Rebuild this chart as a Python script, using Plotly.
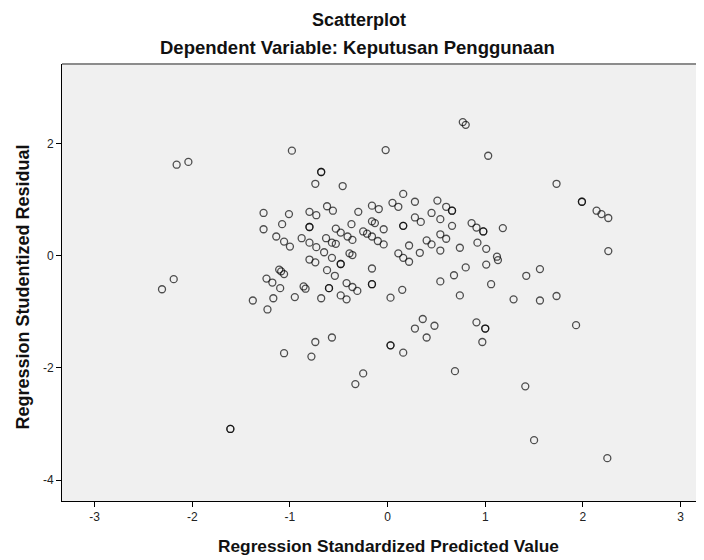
import plotly.graph_objects as go

# Regression Standardized Predicted Value (x) and Regression Studentized Residual (y)
predicted = [
    -2.16, -2.04, -0.98, -0.02, -0.68, -0.68, -0.74, -0.46, 0.77, 0.80,
    1.03, 1.73, 1.99, 1.99, 2.14, 2.19, 2.26, 2.26, 1.18,
    -1.27, -1.01, -0.80, -0.73, -0.62, -0.56, -0.30, -0.16, -0.09, 0.05,
    0.11, 0.16, 0.28, 0.51, 0.60, 0.66, 0.66, 0.45, 0.54, 0.28, 0.34,
    0.16, 0.16, 0.66, 0.86, 0.91, 0.98, 0.98,
    -1.27, -1.08, -0.80, -0.80, -0.37, -0.53, -0.48, -0.16, -0.13, -0.04,
    -0.25, -0.21, -0.16, -0.10, -0.04, -1.14, -1.06, -1.00, -0.88, -0.80,
    -0.73, -0.63, -0.57, -0.53, -0.41, -0.36, 0.40, 0.45, 0.54, 0.60,
    0.22, 0.54, 0.33, 0.74, 0.92, 1.01, 1.12, 0.11, 0.16, 0.22,
    -0.65, -0.57, -0.48, -0.48, -0.39, -0.36, -0.80, -0.74, -0.16, -0.62,
    -0.54, -1.11, -1.09, -1.06, -1.24, -1.18, -1.10, -0.95, -0.86, -0.84,
    -0.68, -0.60, -0.60, -0.48, -0.42, -0.42, -0.36, -0.31, -0.16, -0.16,
    0.03, 0.15, -1.38, -1.23, -1.17, -2.19, -2.31,
    0.80, 1.01, 1.13, 0.68, 0.54, 1.06, 0.74, 1.42, 1.56, 1.29,
    1.56, 1.73,
    0.36, 0.28, 0.48, 0.40, 0.91, 1.00, 1.00, 0.97, 0.03, 0.03,
    0.16, 0.69, 1.41, 1.50, 2.25, 1.93, -0.74, -0.57, -1.06, -0.78,
    -0.25, -0.33, -1.61, -1.61,
]
residual = [
    1.62, 1.67, 1.87, 1.88, 1.49, 1.49, 1.28, 1.24, 2.38, 2.33,
    1.78, 1.28, 0.96, 0.96, 0.80, 0.74, 0.67, 0.08, 0.49,
    0.76, 0.74, 0.78, 0.72, 0.88, 0.80, 0.78, 0.89, 0.83, 0.94,
    0.87, 1.10, 0.96, 0.98, 0.87, 0.80, 0.80, 0.76, 0.65, 0.68, 0.60,
    0.53, 0.53, 0.53, 0.58, 0.50, 0.43, 0.43,
    0.47, 0.56, 0.51, 0.51, 0.56, 0.48, 0.41, 0.61, 0.58, 0.47,
    0.43, 0.39, 0.34, 0.26, 0.20, 0.34, 0.25, 0.16, 0.31, 0.23,
    0.15, 0.31, 0.23, 0.21, 0.34, 0.28, 0.27, 0.20, 0.38, 0.30,
    0.18, 0.09, 0.05, 0.14, 0.23, 0.12, -0.02, 0.04, -0.04, -0.11,
    0.06, -0.04, -0.15, -0.15, 0.04, 0.01, -0.07, -0.12, -0.23, -0.26,
    -0.36, -0.25, -0.28, -0.33, -0.41, -0.48, -0.58, -0.74, -0.55, -0.59,
    -0.76, -0.58, -0.58, -0.71, -0.78, -0.49, -0.56, -0.63, -0.51, -0.51,
    -0.75, -0.61, -0.80, -0.96, -0.76, -0.42, -0.60,
    -0.21, -0.16, -0.08, -0.35, -0.46, -0.51, -0.71, -0.36, -0.24, -0.78,
    -0.80, -0.72,
    -1.13, -1.30, -1.25, -1.46, -1.19, -1.30, -1.30, -1.54, -1.60, -1.60,
    -1.73, -2.06, -2.33, -3.29, -3.61, -1.24, -1.54, -1.46, -1.74, -1.80,
    -2.10, -2.29, -3.09, -3.09,
]

x_ticks = [-3, -2, -1, 0, 1, 2, 3]
y_ticks = [-4, -2, 0, 2]

title_text = "Scatterplot"
subtitle_text = "Dependent Variable: Keputusan Penggunaan"
x_title = "Regression Standardized Predicted Value"
y_title = "Regression Studentized Residual"

FONT = "Liberation Sans, Arial, sans-serif"

# The page body has an 8px default margin, so the figure is sized to fill
# the remaining 696x552 area; plot area spans page x 62..704, y 64..501.
PLOT_TOP, PLOT_BOTTOM, PLOT_LEFT, PLOT_W = 64, 501, 62, 642
PLOT_H = PLOT_BOTTOM - PLOT_TOP


def py(page_y):
    return (PLOT_BOTTOM - page_y) / PLOT_H


def px(page_x):
    return (page_x - PLOT_LEFT) / PLOT_W


fig = go.Figure()
fig.add_trace(go.Scatter(
    x=predicted, y=residual, mode="markers",
    marker=dict(symbol="circle-open", size=7, color="rgba(0,0,0,0.68)",
                line=dict(width=1.3, color="rgba(0,0,0,0.68)")),
    hoverinfo="x+y", showlegend=False,
))

axis_common = dict(
    showgrid=False, zeroline=False, showline=True, linecolor="black",
    linewidth=1, ticks="outside", ticklen=5, tickcolor="black", tickwidth=1,
    tickfont=dict(family=FONT, size=12, color="#222222"), mirror=False,
)

fig.update_layout(
    width=696, height=552,
    margin=dict(l=PLOT_LEFT - 8, r=0, t=PLOT_TOP - 8, b=552 - (PLOT_BOTTOM - 8)),
    paper_bgcolor="white", plot_bgcolor="#f0f0f0",
    xaxis=dict(range=[-3.334, 3.24], tickvals=x_ticks,
               ticktext=[str(v) for v in x_ticks], **axis_common),
    yaxis=dict(range=[-4.374, 3.415], tickvals=y_ticks,
               ticktext=[str(v) for v in y_ticks], **axis_common),
    annotations=[
        dict(text="<b>%s</b>" % title_text, xref="paper", yref="paper",
             x=px(358.5), y=py(19.5), xanchor="center", yanchor="middle",
             showarrow=False, font=dict(family=FONT, size=18, color="#111111")),
        dict(text="<b>%s</b>" % subtitle_text, xref="paper", yref="paper",
             x=px(357.5), y=py(47), xanchor="center", yanchor="middle",
             showarrow=False, font=dict(family=FONT, size=18.5, color="#111111")),
        dict(text="<b>%s</b>" % x_title, xref="paper", yref="paper",
             x=px(388.3), y=py(546), xanchor="center",
             yanchor="middle", showarrow=False,
             font=dict(family=FONT, size=17.3, color="#111111")),
        dict(text="<b>%s</b>" % y_title, xref="paper", yref="paper",
             x=px(22), y=py(287.5), xanchor="center",
             yanchor="middle", textangle=-90, showarrow=False,
             font=dict(family=FONT, size=18, color="#111111")),
    ],
    shapes=[
        dict(type="line", xref="paper", yref="paper", x0=0, x1=1, y0=1, y1=1,
             line=dict(color="#8c8c8c", width=2)),
    ],
)

fig.write_html("out.html")
